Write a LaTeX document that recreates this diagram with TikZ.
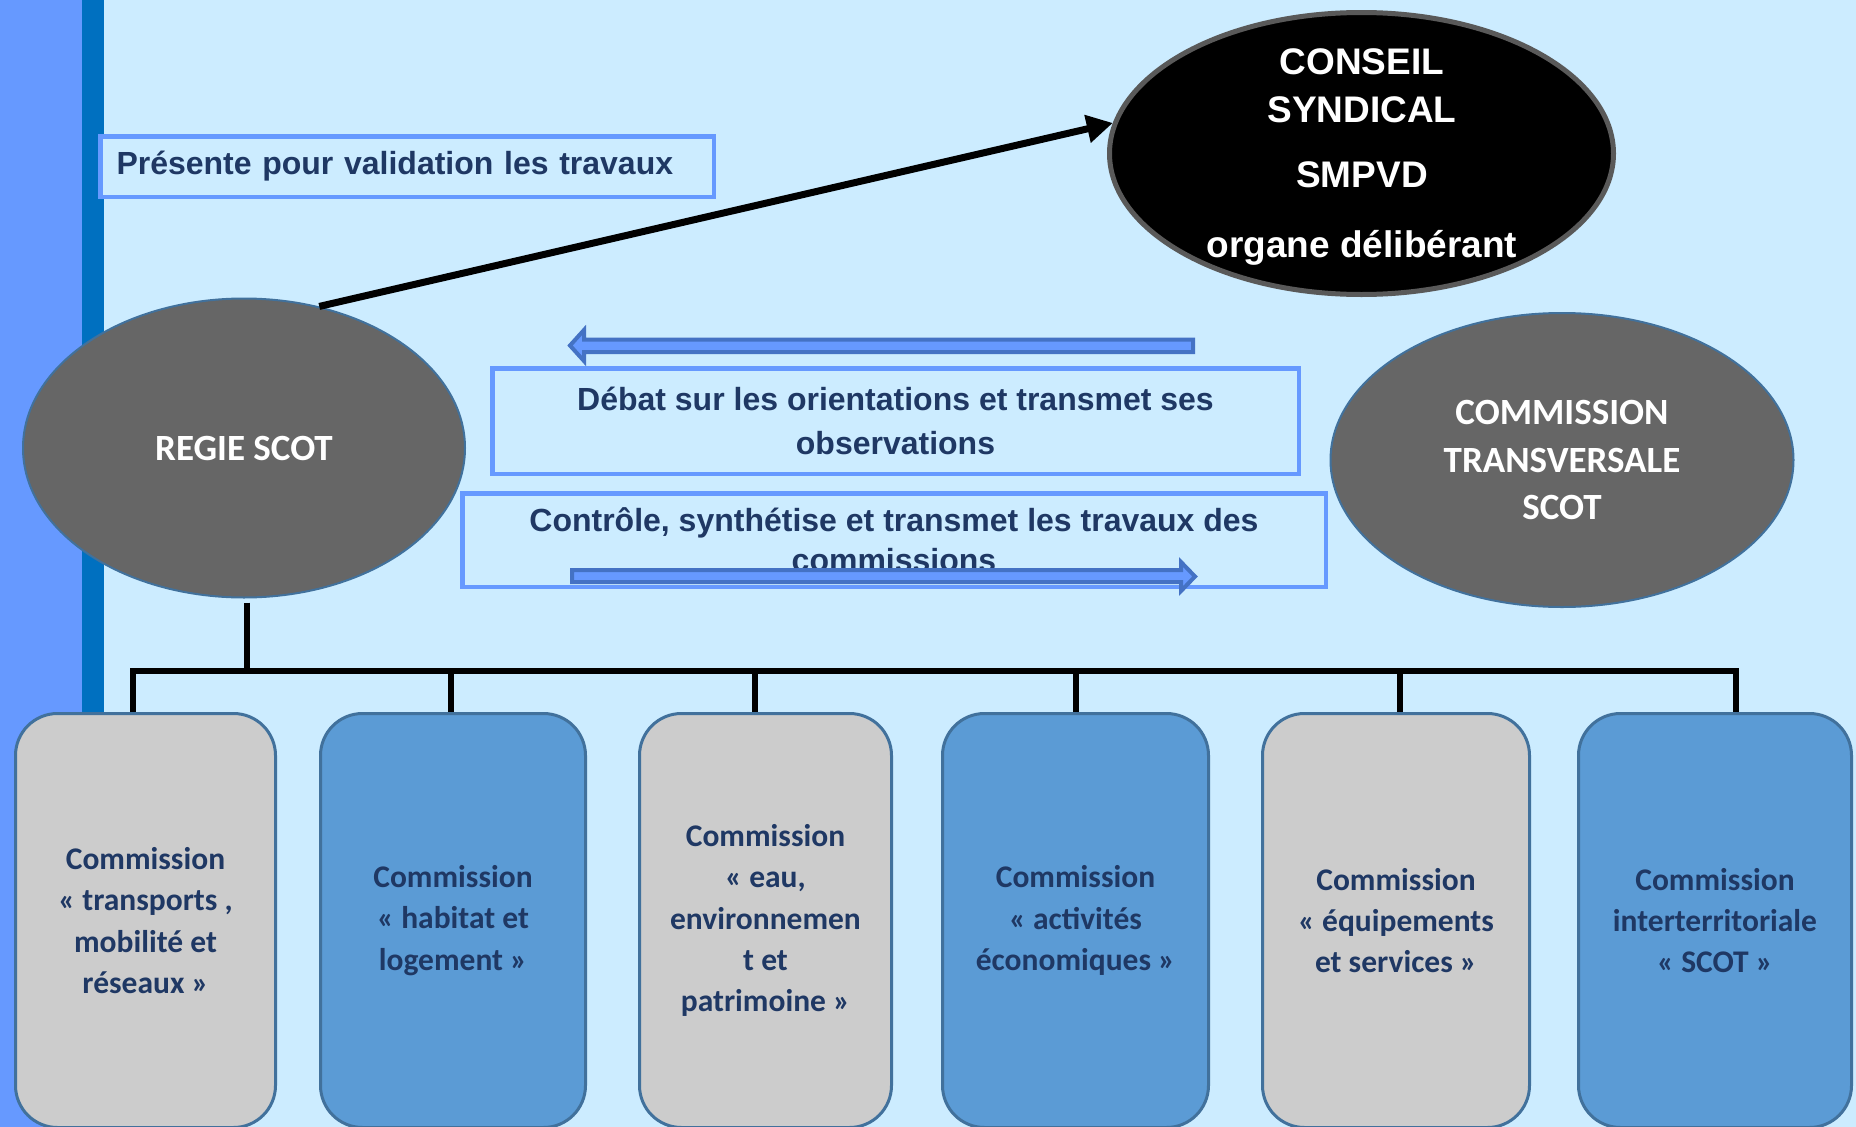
\documentclass[tikz,border=0pt]{standalone}
\usepackage{fontspec}
\setmainfont{Liberation Sans}
\newfontfamily\calfont{Carlito}
\usetikzlibrary{shapes.geometric,arrows.meta}
\definecolor{bgblue}{HTML}{CCECFF}
\definecolor{barlight}{HTML}{6699FF}
\definecolor{bardark}{HTML}{0070C0}
\definecolor{navy}{HTML}{1F3864}
\definecolor{edgeblue}{HTML}{41719C}
\definecolor{arrowdark}{HTML}{4472C4}
\definecolor{boxgray}{HTML}{CCCCCC}
\definecolor{boxblue}{HTML}{5B9BD5}
\definecolor{ellgray}{HTML}{666666}
\definecolor{ringgray}{HTML}{595959}
\begin{document}
\begin{tikzpicture}[x=1pt,y=-1pt,
  lbl/.style={draw=barlight,line width=4.5pt,fill=bgblue,inner sep=0pt,text=navy,
    font=\bfseries\fontsize{32}{44}\selectfont},
  grayell/.style={ellipse,draw=edgeblue,line width=2pt,fill=ellgray,inner sep=0pt,text=white,
    font=\calfont\bfseries\fontsize{37}{47.5}\selectfont,align=center},
  combox/.style={rectangle,rounded corners=42pt,draw=edgeblue,line width=3pt,inner sep=0pt,
    minimum height=414pt,text=navy,align=center,font=\calfont\bfseries\fontsize{31.5}{41.3}\selectfont},
  graybox/.style={combox,fill=boxgray},
  bluebox/.style={combox,fill=boxblue},
  tree/.style={line width=6pt,black},
  blockarrow/.style={fill=barlight,draw=arrowdark,line width=4pt,line join=miter}
]
\useasboundingbox (0,0) rectangle (1856,1127);
\fill[bgblue] (0,0) rectangle (1856,1127);
\fill[barlight] (0,0) rectangle (82,1127);
\fill[bardark] (82,0) rectangle (104,1127);

% label boxes
\node[lbl,minimum width=613.5pt,minimum height=60.5pt,text width=581pt,align=left] (present) at (407,166.5)
  {Présente pour validation les travaux};
\node[lbl,minimum width=806.5pt,minimum height=105.5pt,align=center] (debat) at (895.5,421)
  {Débat sur les orientations et transmet ses\\observations};
\node[lbl,minimum width=863.5pt,minimum height=93.5pt,align=center,font=\bfseries\fontsize{32}{40}\selectfont] (controle) at (894,540)
  {Contrôle, synthétise et transmet les travaux des\\commissions};

% ellipses
\node[grayell,minimum width=442pt,minimum height=299pt] (regie) at (244,448) {REGIE SCOT};
\node[grayell,minimum width=463pt,minimum height=294pt] (transv) at (1562,460)
  {COMMISSION\\TRANSVERSALE\\SCOT};
\node[ellipse,fill=black,draw=ringgray,line width=5pt,minimum width=504pt,minimum height=282pt,inner sep=0pt]
  (conseil) at (1361.5,153.5) {};
\node[text=white,align=center,inner sep=0pt,font=\bfseries\fontsize{37}{48}\selectfont] (conseiltext) at (1362,157)
  {CONSEIL\\SYNDICAL\\[17pt]SMPVD\\[22pt]organe délibérant};

% arrow to conseil
\draw[line width=7pt,-{Triangle[length=26pt,width=27pt]}] (regie.62) -- (conseil.173);

% block arrows
\draw[blockarrow] (1193,339.5) -- (584,339.5) -- (584,330) -- (570,345.5) -- (584,361) -- (584,352) -- (1193,352) -- cycle;
\draw[blockarrow] (572,570) -- (1181,570) -- (1181,562) -- (1195,576.5) -- (1181,591) -- (1181,582) -- (572,582) -- cycle;

% commission boxes
\node[graybox,minimum width=260pt] (c1) at (145.5,920.5) {Commission\\« transports ,\\mobilité et\\réseaux »};
\node[bluebox,minimum width=265pt] (c2) at (453,920.5) {Commission\\« habitat et\\logement »};
\node[graybox,minimum width=252pt] (c3) at (765.5,920.5) {Commission\\« eau,\\environnemen\\t et\\patrimoine »};
\node[bluebox,minimum width=266pt] (c4) at (1075.5,920.5) {Commission\\« activités\\économiques »};
\node[graybox,minimum width=267pt] (c5) at (1396,920.5) {Commission\\« équipements\\et services »};
\node[bluebox,minimum width=273pt] (c6) at (1715,920.5) {Commission\\interterritoriale\\« SCOT »};

% tree
\coordinate (bus) at (0,671);
\draw[tree] ([xshift=3pt,yshift=-4pt]regie.south) -- ([xshift=3pt]regie.south |- bus);
\draw[tree,line join=miter] ([xshift=-12.5pt]c1.north) -- ([xshift=-12.5pt]c1.north |- bus)
  -- ([xshift=21pt]c6.north |- bus) -- ([xshift=21pt]c6.north);
\draw[tree] ([xshift=-2pt]c2.north) -- ([xshift=-2pt]c2.north |- bus);
\draw[tree] ([xshift=-10.5pt]c3.north) -- ([xshift=-10.5pt]c3.north |- bus);
\draw[tree] (c4.north) -- (c4.north |- bus);
\draw[tree] ([xshift=4pt]c5.north) -- ([xshift=4pt]c5.north |- bus);
\end{tikzpicture}
\end{document}
